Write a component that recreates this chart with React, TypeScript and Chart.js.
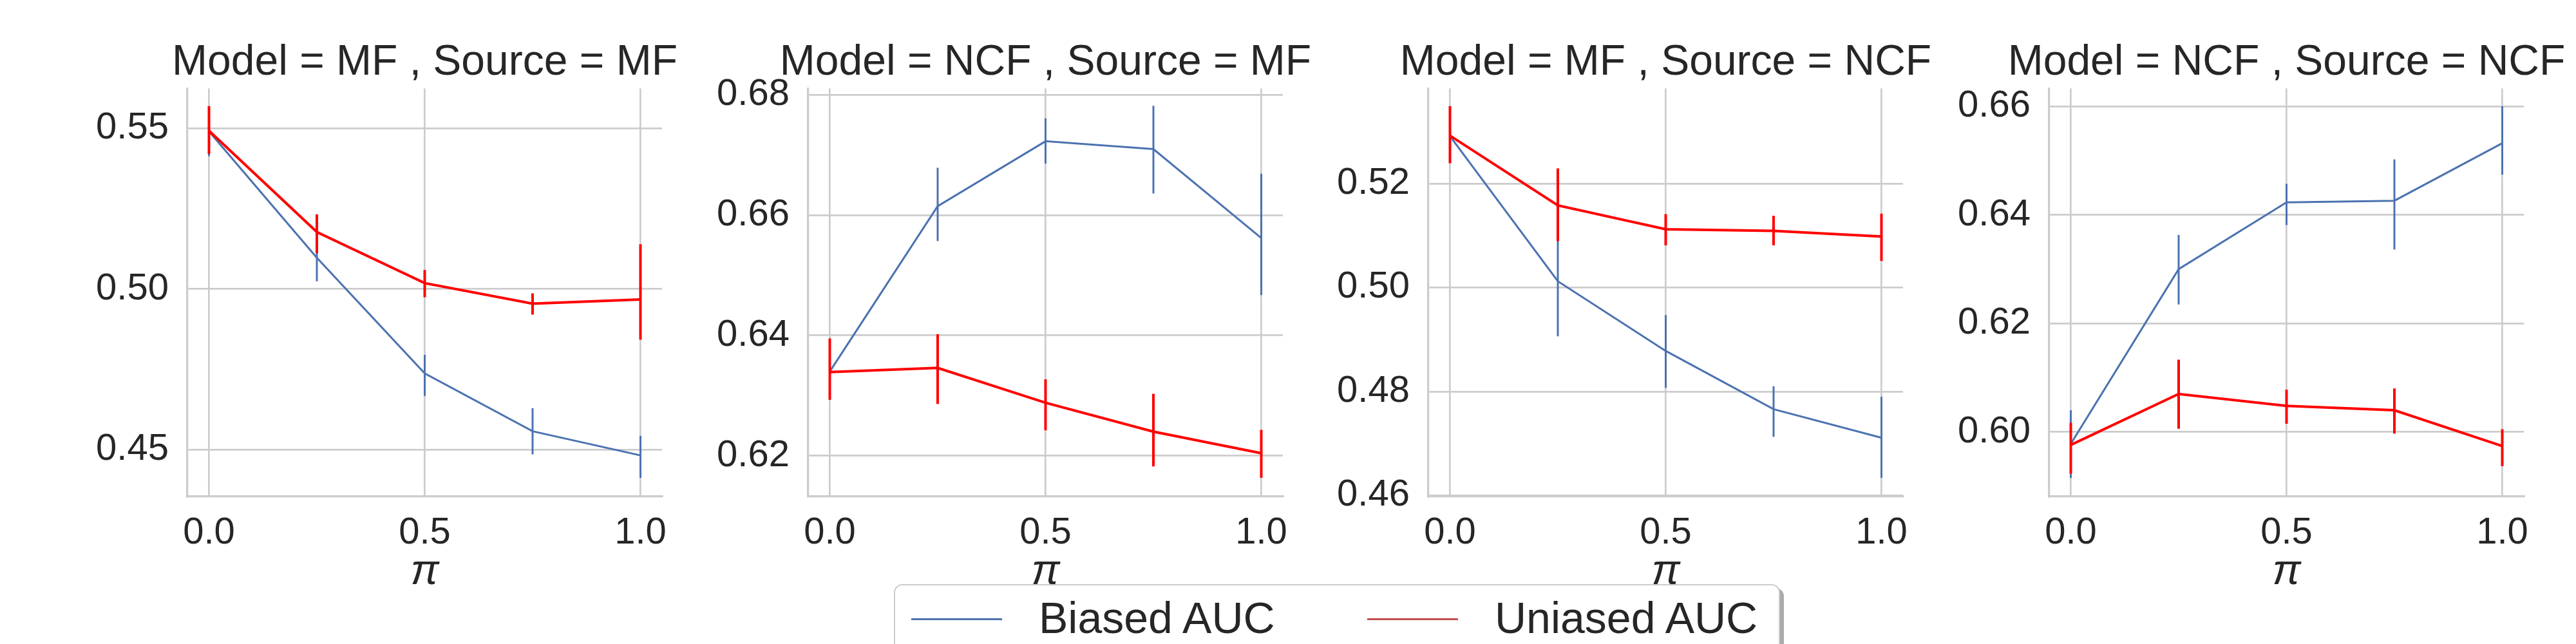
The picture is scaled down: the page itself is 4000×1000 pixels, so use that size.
import { useEffect, useRef } from "react";
import Chart from "chart.js/auto";
import type { ChartConfiguration } from "chart.js";

const PI_VALUES = [0, 0.25, 0.5, 0.75, 1.0];
const X_TICKS = [0, 0.5, 1.0];
const SERIES_LABELS = ["Biased AUC", "Uniased AUC"];
const PANEL_TITLES = [
  "Model = MF , Source = MF",
  "Model = NCF , Source = MF",
  "Model = MF , Source = NCF",
  "Model = NCF , Source = NCF",
];

// Model = MF , Source = MF
const MF_MF_BIASED = [0.549, 0.5097, 0.4737, 0.4557, 0.4482];
const MF_MF_BIASED_LO = [0.5413, 0.5024, 0.4667, 0.4485, 0.4412];
const MF_MF_BIASED_HI = [0.5567, 0.517, 0.4795, 0.4629, 0.4543];
const MF_MF_UNBIASED = [0.5492, 0.5177, 0.5018, 0.4954, 0.4967];
const MF_MF_UNBIASED_LO = [0.542, 0.5111, 0.4974, 0.492, 0.4842];
const MF_MF_UNBIASED_HI = [0.5569, 0.5232, 0.5059, 0.4986, 0.5139];

// Model = NCF , Source = MF
const NCF_MF_BIASED = [0.634, 0.6615, 0.6723, 0.671, 0.6562];
const NCF_MF_BIASED_LO = [0.6293, 0.6557, 0.6686, 0.6636, 0.6467];
const NCF_MF_BIASED_HI = [0.6388, 0.6679, 0.6761, 0.6782, 0.6669];
const NCF_MF_UNBIASED = [0.6339, 0.6346, 0.6288, 0.624, 0.6204];
const NCF_MF_UNBIASED_LO = [0.6293, 0.6286, 0.6242, 0.6182, 0.6163];
const NCF_MF_UNBIASED_HI = [0.6395, 0.6402, 0.6327, 0.6303, 0.6243];

// Model = MF , Source = NCF
const MF_NCF_BIASED = [0.5291, 0.5012, 0.4878, 0.4766, 0.4711];
const MF_NCF_BIASED_LO = [0.524, 0.4906, 0.4807, 0.4713, 0.4634];
const MF_NCF_BIASED_HI = [0.534, 0.511, 0.4947, 0.481, 0.479];
const MF_NCF_UNBIASED = [0.5292, 0.5158, 0.5112, 0.5109, 0.5098];
const MF_NCF_UNBIASED_LO = [0.5239, 0.5089, 0.5081, 0.5081, 0.5051];
const MF_NCF_UNBIASED_HI = [0.5349, 0.5229, 0.5141, 0.5138, 0.5142];

// Model = NCF , Source = NCF
const NCF_NCF_BIASED = [0.5978, 0.63, 0.6423, 0.6426, 0.6532];
const NCF_NCF_BIASED_LO = [0.5915, 0.6235, 0.6381, 0.6336, 0.6474];
const NCF_NCF_BIASED_HI = [0.604, 0.6363, 0.6457, 0.6502, 0.66];
const NCF_NCF_UNBIASED = [0.5976, 0.607, 0.6048, 0.604, 0.5974];
const NCF_NCF_UNBIASED_LO = [0.5923, 0.6006, 0.6015, 0.5997, 0.5937];
const NCF_NCF_UNBIASED_HI = [0.6017, 0.6133, 0.6078, 0.608, 0.6005];

const Y_TICKS = [
  [0.45, 0.5, 0.55],
  [0.62, 0.64, 0.66, 0.68],
  [0.46, 0.48, 0.5, 0.52],
  [0.6, 0.62, 0.64, 0.66],
];
const Y_LIMITS = [
  [0.4354, 0.5624],
  [0.6132, 0.6811],
  [0.4598, 0.5383],
  [0.5881, 0.6633],
];

const PANELS = [
  { biased: [MF_MF_BIASED, MF_MF_BIASED_LO, MF_MF_BIASED_HI], unbiased: [MF_MF_UNBIASED, MF_MF_UNBIASED_LO, MF_MF_UNBIASED_HI] },
  { biased: [NCF_MF_BIASED, NCF_MF_BIASED_LO, NCF_MF_BIASED_HI], unbiased: [NCF_MF_UNBIASED, NCF_MF_UNBIASED_LO, NCF_MF_UNBIASED_HI] },
  { biased: [MF_NCF_BIASED, MF_NCF_BIASED_LO, MF_NCF_BIASED_HI], unbiased: [MF_NCF_UNBIASED, MF_NCF_UNBIASED_LO, MF_NCF_UNBIASED_HI] },
  { biased: [NCF_NCF_BIASED, NCF_NCF_BIASED_LO, NCF_NCF_BIASED_HI], unbiased: [NCF_NCF_UNBIASED, NCF_NCF_UNBIASED_LO, NCF_NCF_UNBIASED_HI] },
];

const FONT = "'Liberation Sans', Arial, sans-serif";
const TEXT = "#262626";
const GRID = "#cccccc";
const BLUE = "#4c72b0";
const RED = "#ff0000";
const LEGEND_RED = "#c44e52";

// layout (figure pixels)
const SPINE_LEFT = [291, 1255, 2218, 3182];
const PLOT_W = 737;
const SIDE_W = 220; // y axis on the left, empty spacer axis on the right (keeps title centred)
const CANVAS_H = 940;
const X_AXIS_H = 169;

function line(values: number[]) {
  return PI_VALUES.map((x, i) => ({ x, y: values[i] }));
}

function errBars(lo: number[], hi: number[]) {
  return PI_VALUES.flatMap((x, i) => [
    { x, y: lo[i] },
    { x, y: hi[i] },
    { x, y: null as number | null },
  ]);
}

function Panel({ index }: { index: number }) {
  const canvasRef = useRef<HTMLCanvasElement | null>(null);
  const width = SIDE_W + PLOT_W + SIDE_W;
  const left = SPINE_LEFT[index] - SIDE_W;

  useEffect(() => {
    if (!canvasRef.current) return;
    const p = PANELS[index];
    const [b, bLo, bHi] = p.biased;
    const [u, uLo, uHi] = p.unbiased;

    const config: ChartConfiguration<"line"> = {
      type: "line",
      data: {
        datasets: [
          { label: SERIES_LABELS[1] + " err", data: errBars(uLo, uHi) as any, borderColor: RED, borderWidth: 4, pointRadius: 0, spanGaps: false, borderCapStyle: "butt" },
          { label: SERIES_LABELS[1], data: line(u), borderColor: RED, borderWidth: 4, pointRadius: 0, tension: 0 },
          { label: SERIES_LABELS[0] + " err", data: errBars(bLo, bHi) as any, borderColor: BLUE, borderWidth: 3, pointRadius: 0, spanGaps: false, borderCapStyle: "butt" },
          { label: SERIES_LABELS[0], data: line(b), borderColor: BLUE, borderWidth: 3, pointRadius: 0, tension: 0 },
        ],
      },
      options: {
        animation: false,
        responsive: false,
        devicePixelRatio: 1,
        events: [],
        layout: { padding: 0 },
        plugins: {
          legend: { display: false },
          tooltip: { enabled: false },
          title: {
            display: true,
            text: PANEL_TITLES[index],
            color: TEXT,
            font: { family: FONT, size: 66, weight: "normal", lineHeight: 1.2 },
            padding: { top: 58, bottom: 0 },
          },
        },
        scales: {
          x: {
            type: "linear",
            min: -0.05,
            max: 1.05,
            afterBuildTicks: (scale) => {
              scale.ticks = X_TICKS.map((value) => ({ value }));
            },
            afterFit: (scale) => {
              scale.height = X_AXIS_H;
            },
            grid: { color: GRID, lineWidth: 2.7, drawTicks: false },
            border: { display: true, color: GRID, width: 3.3 },
            ticks: {
              padding: 22,
              color: TEXT,
              font: { family: FONT, size: 58 },
              callback: (v) => Number(v).toFixed(1),
            },
            title: {
              display: true,
              text: "π",
              color: TEXT,
              font: { family: FONT, size: 66, style: "italic", lineHeight: 1.2 },
              padding: { top: 0, bottom: 12 },
            },
          },
          y: {
            type: "linear",
            position: "left",
            min: Y_LIMITS[index][0],
            max: Y_LIMITS[index][1],
            afterBuildTicks: (scale) => {
              scale.ticks = Y_TICKS[index].map((value) => ({ value }));
            },
            afterFit: (scale) => {
              scale.width = SIDE_W;
            },
            grid: { color: GRID, lineWidth: 2.7, drawTicks: false },
            border: { display: true, color: GRID, width: 3.3 },
            ticks: {
              padding: 29,
              color: TEXT,
              font: { family: FONT, size: 58 },
              callback: (v) => Number(v).toFixed(2),
            },
          },
          spacer: {
            type: "linear",
            position: "right",
            min: Y_LIMITS[index][0],
            max: Y_LIMITS[index][1],
            afterFit: (scale) => {
              scale.width = SIDE_W;
            },
            grid: { display: false, drawTicks: false },
            border: { display: false },
            ticks: { display: false },
          },
        },
      },
    };

    const chart = new Chart(canvasRef.current, config);
    return () => chart.destroy();
  }, [index]);

  return (
    <canvas
      ref={canvasRef}
      width={width}
      height={CANVAS_H}
      style={{ position: "absolute", left, top: 0, width, height: CANVAS_H }}
    />
  );
}

function Legend() {
  const textStyle = {
    position: "absolute" as const,
    top: 16,
    fontFamily: FONT,
    fontSize: 68,
    lineHeight: "68px",
    color: TEXT,
    whiteSpace: "nowrap" as const,
  };
  const sample = (color: string, x: number) => (
    <div style={{ position: "absolute", left: x, top: 51, width: 141, height: 3, background: color }} />
  );
  return (
    <div
      style={{
        position: "absolute",
        left: 1388,
        top: 907,
        width: 1372,
        height: 130,
        border: `2.5px solid ${GRID}`,
        borderRadius: 13,
        background: "#ffffff",
        boxShadow: "6px 6px 0 #aaaaaa",
      }}
    >
      {sample(BLUE, 25)}
      <span style={{ ...textStyle, left: 223 }}>{SERIES_LABELS[0]}</span>
      {sample(LEGEND_RED, 733)}
      <span style={{ ...textStyle, left: 931 }}>{SERIES_LABELS[1]}</span>
    </div>
  );
}

export default function App() {
  return (
    <div
      style={{
        position: "absolute",
        left: 0,
        top: 0,
        width: 4000,
        height: 1000,
        overflow: "hidden",
        background: "#ffffff",
      }}
    >
      {PANEL_TITLES.map((_, i) => (
        <Panel key={i} index={i} />
      ))}
      <Legend />
    </div>
  );
}
